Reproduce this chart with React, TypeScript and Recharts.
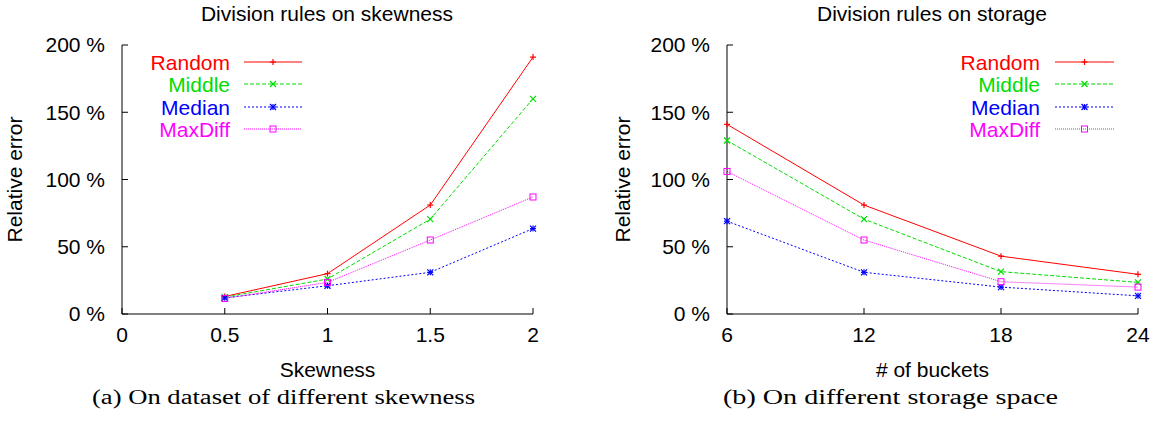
import React from "react"
import { Legend, Line, LineChart, XAxis, YAxis } from "recharts"

// Skewness experiment (left panel)
const skewness = [0.5, 1, 1.5, 2]
const skewRandom = [13, 30, 81, 191]
const skewMiddle = [12.5, 26, 70.5, 160]
const skewMedian = [12, 21, 31, 63.5]
const skewMaxDiff = [11.5, 23.5, 55, 87]
const skewTicks = [0, 0.5, 1, 1.5, 2]

// Storage experiment (right panel)
const buckets = [6, 12, 18, 24]
const bucketRandom = [141, 81, 43, 29.5]
const bucketMiddle = [129, 70.5, 31.5, 23.5]
const bucketMedian = [69, 31, 20, 13.5]
const bucketMaxDiff = [106, 55, 24, 20]
const bucketTicks = [6, 12, 18, 24]

const errorTicks = [0, 50, 100, 150, 200]

const SANS = "'Liberation Sans', Arial, Helvetica, sans-serif"
const SERIF = "'Liberation Serif', 'Times New Roman', serif"

type Shape = "plus" | "cross" | "star" | "square"

const series: { key: string; color: string; dash?: string; shape: Shape }[] = [
  { key: "Random", color: "#ff0000", shape: "plus" },
  { key: "Middle", color: "#00dd00", dash: "4 2", shape: "cross" },
  { key: "Median", color: "#0000ff", dash: "2 2", shape: "star" },
  { key: "MaxDiff", color: "#ff00ff", dash: "1 1", shape: "square" },
]

function buildRows(xs: number[], cols: number[][]) {
  return xs.map((x, i) => ({
    x,
    Random: cols[0][i],
    Middle: cols[1][i],
    Median: cols[2][i],
    MaxDiff: cols[3][i],
  }))
}

const skewData = buildRows(skewness, [skewRandom, skewMiddle, skewMedian, skewMaxDiff])
const bucketData = buildRows(buckets, [bucketRandom, bucketMiddle, bucketMedian, bucketMaxDiff])

function Marker({ shape, x, y, color }: { shape: Shape; x: number; y: number; color: string }) {
  const s = 3
  if (shape === "square") {
    return <rect x={x - s} y={y - s} width={s * 2} height={s * 2} fill="none" stroke={color} strokeWidth={1} />
  }
  const plus = (
    <>
      <line x1={x - s} y1={y} x2={x + s} y2={y} stroke={color} strokeWidth={1.2} />
      <line x1={x} y1={y - s} x2={x} y2={y + s} stroke={color} strokeWidth={1.2} />
    </>
  )
  const cross = (
    <>
      <line x1={x - s} y1={y - s} x2={x + s} y2={y + s} stroke={color} strokeWidth={1.2} />
      <line x1={x - s} y1={y + s} x2={x + s} y2={y - s} stroke={color} strokeWidth={1.2} />
    </>
  )
  return (
    <g>
      {shape !== "cross" && plus}
      {shape !== "plus" && cross}
    </g>
  )
}

function LegendBox({ labelX, x1, x2 }: { labelX: number; x1: number; x2: number }) {
  const rowY = [62, 84, 107, 129]
  return (
    <svg width={x2 + 10} height={150} style={{ display: "block", overflow: "visible" }}>
      {series.map((s, i) => (
        <g key={s.key}>
          <text
            x={labelX}
            y={rowY[i]}
            dy="0.36em"
            textAnchor="end"
            fill={s.color}
            fontSize={21}
            fontFamily={SANS}
          >
            {s.key}
          </text>
          <line x1={x1} x2={x2} y1={rowY[i]} y2={rowY[i]} stroke={s.color} strokeDasharray={s.dash} />
          <Marker shape={s.shape} x={(x1 + x2) / 2} y={rowY[i]} color={s.color} />
        </g>
      ))}
    </svg>
  )
}

const tickStyle = { fill: "#000", fontSize: 21, fontFamily: SANS }
const noTick = () => <g />

type PanelProps = {
  data: any[]
  width: number
  yAxisWidth: number
  marginRight: number
  xDomain: [number, number]
  xTicks: number[]
  xLabel: string
  yLabelOffset: number
  legend: { labelX: number; x1: number; x2: number }
}

function Panel(p: PanelProps) {
  return (
    <LineChart width={p.width} height={421} data={p.data} margin={{ top: 45, right: p.marginRight, left: 0, bottom: 0 }}>
      <XAxis
        dataKey="x"
        type="number"
        domain={p.xDomain}
        ticks={p.xTicks}
        height={107}
        tickSize={-6}
        tickMargin={19}
        stroke="#000"
        tick={tickStyle}
        label={{ value: p.xLabel, position: "insideTop", offset: 48, fill: "#000", fontSize: 21, fontFamily: SANS }}
      />
      <XAxis
        xAxisId="top"
        orientation="top"
        dataKey="x"
        type="number"
        domain={p.xDomain}
        ticks={p.xTicks}
        height={0}
        tickSize={-6}
        stroke="#000"
        tick={noTick}
      />
      <YAxis
        type="number"
        domain={[0, 200]}
        ticks={errorTicks}
        width={p.yAxisWidth}
        tickSize={-6}
        tickMargin={23}
        stroke="#000"
        tick={tickStyle}
        tickFormatter={(v: number) => `${v} %`}
        label={{
          value: "Relative error",
          angle: -90,
          position: "insideLeft",
          offset: p.yLabelOffset,
          fill: "#000",
          fontSize: 21,
          fontFamily: SANS,
          style: { textAnchor: "middle" },
        }}
      />
      <YAxis
        yAxisId="right"
        orientation="right"
        type="number"
        domain={[0, 200]}
        ticks={errorTicks}
        width={0}
        tickSize={-6}
        stroke="#000"
        tick={noTick}
      />
      <Legend
        layout="horizontal"
        verticalAlign="middle"
        align="center"
        wrapperStyle={{ left: 0, top: 0, width: p.width, height: 150 }}
        content={() => <LegendBox {...p.legend} />}
      />
      {series.map((s) => (
        <Line
          key={s.key}
          dataKey={s.key}
          type="linear"
          stroke={s.color}
          strokeWidth={1}
          strokeDasharray={s.dash}
          isAnimationActive={false}
          activeDot={false}
          dot={(d: any) => <Marker key={`${s.key}-${d.index}`} shape={s.shape} x={d.cx} y={d.cy} color={s.color} />}
        />
      ))}
    </LineChart>
  )
}

export default function App() {
  return (
    <div style={{ position: "relative", width: 1156, height: 421, background: "#fff", overflow: "hidden" }}>
      <style>{"body{margin:0}"}</style>
      <div style={{ position: "absolute", left: 0, top: 0 }}>
        <Panel
          data={skewData}
          width={560}
          yAxisWidth={122}
          marginRight={27}
          xDomain={[0, 2]}
          xTicks={skewTicks}
          xLabel="Skewness"
          yLabelOffset={15}
          legend={{ labelX: 230, x1: 244, x2: 302 }}
        />
      </div>
      <div style={{ position: "absolute", left: 600, top: 0 }}>
        <Panel
          data={bucketData}
          width={556}
          yAxisWidth={127}
          marginRight={18}
          xDomain={[6, 24]}
          xTicks={bucketTicks}
          xLabel="# of buckets"
          yLabelOffset={23}
          legend={{ labelX: 440, x1: 455, x2: 514 }}
        />
      </div>
      <svg width={1156} height={421} style={{ position: "absolute", left: 0, top: 0, pointerEvents: "none" }}>
        <text x={327} y={21} textAnchor="middle" fontSize={21} fontFamily={SANS} fill="#000">
          Division rules on skewness
        </text>
        <text x={932} y={21} textAnchor="middle" fontSize={21} fontFamily={SANS} fill="#000">
          Division rules on storage
        </text>
        <text x={92} y={404} fontSize={20} fontFamily={SERIF} textLength={383} lengthAdjust="spacingAndGlyphs" fill="#000">
          (a) On dataset of different skewness
        </text>
        <text x={723} y={404} fontSize={20} fontFamily={SERIF} textLength={335} lengthAdjust="spacingAndGlyphs" fill="#000">
          (b) On different storage space
        </text>
      </svg>
    </div>
  )
}
